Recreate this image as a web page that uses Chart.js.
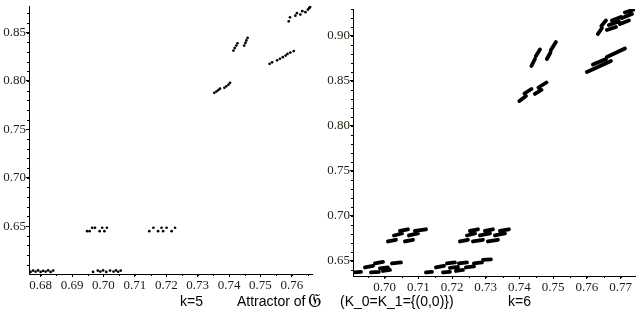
<!DOCTYPE html>
<html>
<head>
<meta charset="utf-8">
<script src="https://cdn.jsdelivr.net/npm/chart.js@4/dist/chart.umd.min.js"></script>
<style>
body { margin: 0; background: #fff; width: 639px; height: 314px; position: relative; overflow: hidden; font-family: "Liberation Sans", Arial, sans-serif; }
canvas { position: absolute; top: 0; }
.lbl { position: absolute; font-size: 14px; line-height: 1; color: #000; white-space: nowrap; }
.frak { position: absolute; font-size: 19px; line-height: 1; color: #000; }
</style>
</head>
<body>
<canvas id="k5" width="318" height="300" style="left:0"></canvas>
<canvas id="k6" width="317" height="302" style="left:322px"></canvas>
<div class="lbl" style="left:180px;top:294px">k=5</div>
<div class="lbl" style="left:237px;top:294px">Attractor of</div>
<div class="frak" style="left:308px;top:291px">𝔊</div>
<div class="lbl" style="left:340px;top:294px">(K_0=K_1={(0,0)})</div>
<div class="lbl" style="left:508px;top:294px">k=6</div>
<script>
// k=5 : attractor points
const k5X = [
  0.6768, 0.6776, 0.6784, 0.6792, 0.6800, 0.6808, 0.6816, 0.6824, 0.6832, 0.6840,
  0.6967, 0.6982, 0.6990, 0.6999, 0.7009, 0.7021, 0.7032, 0.7040, 0.7047, 0.7055,
  0.6948, 0.6956, 0.6964, 0.6973, 0.6988, 0.6996, 0.7003, 0.7011,
  0.7146, 0.7159, 0.7174, 0.7185, 0.7190, 0.7201, 0.7217, 0.7228,
  0.7353, 0.7360, 0.7366, 0.7371, 0.7385, 0.7391, 0.7398, 0.7403,
  0.7414, 0.7418, 0.7423, 0.7427, 0.7448, 0.7452, 0.7455, 0.7459,
  0.7529, 0.7537, 0.7553, 0.7562, 0.7571, 0.7580, 0.7586, 0.7595, 0.7606,
  0.7590, 0.7594, 0.7611, 0.7616, 0.7627, 0.7633, 0.7643, 0.7651, 0.7655, 0.7658
];
const k5Y = [
  0.6026, 0.6040, 0.6030, 0.6042, 0.6026, 0.6038, 0.6030, 0.6042, 0.6026, 0.6040,
  0.6026, 0.6040, 0.6030, 0.6042, 0.6026, 0.6040, 0.6030, 0.6042, 0.6028, 0.6040,
  0.6448, 0.6448, 0.6483, 0.6483, 0.6448, 0.6483, 0.6448, 0.6483,
  0.6448, 0.6483, 0.6448, 0.6483, 0.6448, 0.6483, 0.6448, 0.6483,
  0.7878, 0.7892, 0.7907, 0.7920, 0.7930, 0.7945, 0.7962, 0.7981,
  0.8314, 0.8340, 0.8366, 0.8390, 0.8366, 0.8393, 0.8419, 0.8445,
  0.8177, 0.8193, 0.8213, 0.8230, 0.8246, 0.8263, 0.8280, 0.8294, 0.8309,
  0.8617, 0.8658, 0.8675, 0.8701, 0.8686, 0.8722, 0.8711, 0.8737, 0.8753, 0.8765
];

// k=6 : attractor pieces, start and end of each dash
const k6X0 = [
  0.74356, 0.74490, 0.74816, 0.74935,
  0.74000, 0.74148, 0.74460, 0.74564,
  0.76003, 0.76359, 0.76181, 0.76596,
  0.76329, 0.76433, 0.76596, 0.76656, 0.76745, 0.76982, 0.77042, 0.77131,
  0.70098, 0.70602, 0.70276, 0.70721, 0.70454, 0.70899,
  0.72234, 0.72620, 0.73065, 0.72442, 0.72828, 0.73273, 0.72531, 0.72976, 0.73421,
  0.69089, 0.69415, 0.69593, 0.69712, 0.69861, 0.69950, 0.70217,
  0.71226, 0.71522, 0.71730, 0.71849, 0.71938, 0.72116, 0.72205, 0.72412, 0.72650, 0.72917
];
const k6Y0 = [
  0.86667, 0.87778, 0.87444, 0.88444,
  0.82778, 0.83611, 0.83556, 0.84278,
  0.86000, 0.86611, 0.86833, 0.87667,
  0.90222, 0.91111, 0.90667, 0.91222, 0.91722, 0.91333, 0.92000, 0.92611,
  0.67167, 0.67167, 0.67833, 0.67833, 0.68333, 0.68333,
  0.67167, 0.67167, 0.67167, 0.67833, 0.67833, 0.67833, 0.68333, 0.68333, 0.68333,
  0.63722, 0.64278, 0.63722, 0.64722, 0.64167, 0.63889, 0.64722,
  0.63722, 0.64278, 0.63722, 0.64722, 0.64222, 0.63889, 0.64722, 0.64278, 0.64722, 0.65111
];
const k6X1 = [
  0.74460, 0.74608, 0.74920, 0.75083,
  0.74193, 0.74356, 0.74653, 0.74801,
  0.76329, 0.76715, 0.76567, 0.77131,
  0.76448, 0.76567, 0.76864, 0.76953, 0.77012, 0.77249, 0.77338, 0.77398,
  0.70335, 0.70840, 0.70513, 0.70988, 0.70691, 0.71226,
  0.72472, 0.72917, 0.73362, 0.72680, 0.73125, 0.73570, 0.72769, 0.73214, 0.73688,
  0.69297, 0.69653, 0.69831, 0.69950, 0.70098, 0.70157, 0.70484,
  0.71404, 0.71760, 0.71938, 0.72086, 0.72175, 0.72323, 0.72442, 0.72650, 0.72887, 0.73154
];
const k6Y1 = [
  0.87444, 0.88500, 0.88167, 0.89333,
  0.83333, 0.84111, 0.84000, 0.84833,
  0.86556, 0.87222, 0.87444, 0.88611,
  0.90889, 0.91722, 0.91000, 0.91611, 0.92111, 0.91722, 0.92444, 0.92944,
  0.67356, 0.67356, 0.68056, 0.68056, 0.68522, 0.68522,
  0.67356, 0.67356, 0.67356, 0.68056, 0.68056, 0.68056, 0.68522, 0.68522, 0.68522,
  0.63778, 0.64444, 0.63778, 0.64889, 0.64278, 0.64000, 0.64833,
  0.63778, 0.64444, 0.63778, 0.64833, 0.64333, 0.64000, 0.64833, 0.64389, 0.64833, 0.65167
];

const k5Range = { x: [0.6763, 0.7664], y: [0.6005, 0.8775] };
const k6Range = { x: [0.6906, 0.7743], y: [0.6333, 0.9300] };

// small ticks between the labelled ones
const minorTicks = {
  id: 'minorTicks',
  afterDraw(chart, args, opts) {
    const ctx = chart.ctx;
    const xs = chart.scales.x, ys = chart.scales.y;
    ctx.save();
    ctx.strokeStyle = '#000';
    ctx.lineWidth = 1;
    ctx.beginPath();
    for (let i = Math.ceil(xs.min / opts.x - 1e-6); i * opts.x <= xs.max + 1e-9; i++) {
      const p = Math.round(xs.getPixelForValue(i * opts.x)) + 0.5;
      ctx.moveTo(p, ys.bottom);
      ctx.lineTo(p, ys.bottom + 2);
    }
    for (let i = Math.ceil(ys.min / opts.y - 1e-6); i * opts.y <= ys.max + 1e-9; i++) {
      const p = Math.round(ys.getPixelForValue(i * opts.y)) + 0.5;
      ctx.moveTo(xs.left, p);
      ctx.lineTo(xs.left - 2, p);
    }
    ctx.stroke();
    ctx.restore();
  }
};

function makeChart(id, datasets, range, yWidth, pad) {
  return new Chart(document.getElementById(id), {
    type: 'scatter',
    data: { datasets: datasets },
    options: {
      responsive: false,
      animation: false,
      events: [],
      layout: { padding: pad },
      plugins: {
        legend: { display: false },
        tooltip: { enabled: false },
        minorTicks: { x: 0.005, y: 0.01 }
      },
      scales: {
        x: {
          type: 'linear', min: range.x[0], max: range.x[1],
          grid: { drawOnChartArea: false, tickLength: 3, tickColor: '#000' },
          border: { color: '#000', width: 1 },
          ticks: {
            stepSize: 0.01, includeBounds: false, autoSkip: false, maxRotation: 0, padding: 1,
            color: '#141a28', font: { family: 'Liberation Serif', size: 13 },
            callback: v => v.toFixed(2)
          },
          afterFit(s) { s.height = 26; s.paddingLeft = 0; s.paddingRight = 0; s.paddingTop = 0; s.paddingBottom = 0; }
        },
        y: {
          type: 'linear', min: range.y[0], max: range.y[1],
          grid: { drawOnChartArea: false, tickLength: 3, tickColor: '#000' },
          border: { color: '#000', width: 1 },
          ticks: {
            stepSize: 0.05, includeBounds: false, autoSkip: false, padding: 0,
            color: '#2a2012', font: { family: 'Liberation Serif', size: 13 },
            callback: v => v.toFixed(2)
          },
          afterFit(s) { s.width = yWidth; s.paddingLeft = 0; s.paddingRight = 0; s.paddingTop = 0; s.paddingBottom = 0; }
        }
      }
    },
    plugins: [minorTicks]
  });
}

const k5Points = k5X.map((x, i) => ({ x: x, y: k5Y[i] }));
makeChart('k5', [{
  data: k5Points,
  pointRadius: 1.35,
  pointBackgroundColor: '#000',
  pointBorderWidth: 0,
  showLine: false
}], k5Range, 29, { top: 6, right: 6, left: 0, bottom: 0 });

const k6Segments = [];
k6X0.forEach((x, i) => {
  k6Segments.push({ x: x, y: k6Y0[i] });
  k6Segments.push({ x: k6X1[i], y: k6Y1[i] });
  k6Segments.push({ x: k6X1[i], y: null });
});
makeChart('k6', [{
  data: k6Segments,
  showLine: true,
  spanGaps: false,
  pointRadius: 0,
  borderColor: '#000',
  borderWidth: 3.8,
  borderCapStyle: 'round'
}], k6Range, 31, { top: 9, right: 4, left: 0, bottom: 0 });
</script>
</body>
</html>
